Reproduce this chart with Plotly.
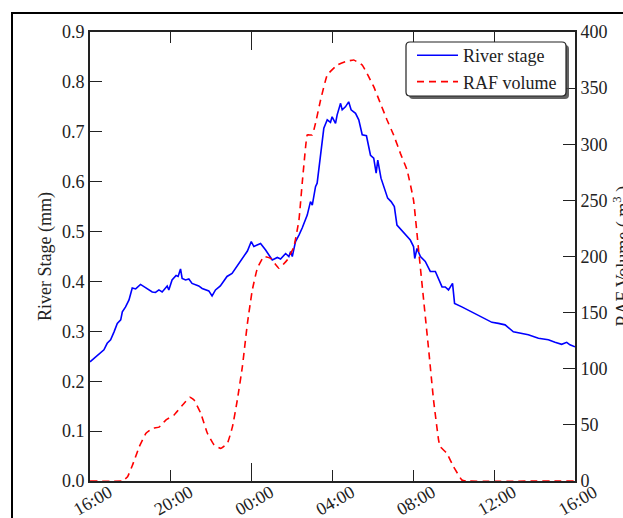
import plotly.graph_objects as go

# ---- data (hours after 16:00) ----
stage_hours = [0, 0.28, 0.53, 0.69, 0.85, 1.02, 1.19, 1.35, 1.52, 1.6,
               1.76, 1.93, 2.09, 2.26, 2.5, 2.75, 2.91, 3.08, 3.24, 3.41,
               3.57, 3.82, 3.9, 4.06, 4.26, 4.36, 4.48, 4.56, 4.73, 4.89,
               5.05, 5.22, 5.38, 5.55, 5.71, 5.88, 6.04, 6.21, 6.45, 6.62,
               6.78, 7.03, 7.27, 7.52, 7.69,
               7.79, 7.98, 8.11, 8.44, 8.69,
               9.02, 9.27, 9.43, 9.68, 9.84, 9.93, 10.01, 10.17, 10.34, 10.5,
               10.75, 10.91, 11.0, 11.16, 11.24, 11.41, 11.57, 11.74, 11.9, 11.98,
               12.15, 12.23, 12.4, 12.48, 12.64, 12.8, 12.92, 13.14, 13.3, 13.47,
               13.68, 13.88, 14.04, 14.16, 14.24, 14.4, 14.57, 14.73, 14.9, 15.06,
               15.19, 15.36,
               15.69, 15.85, 16.01, 16.07, 16.18, 16.35, 16.59, 16.84, 17.09, 17.25,
               17.42, 17.58, 17.74, 17.94, 18.04, 18.4, 18.9, 19.39, 19.89, 20.21,
               20.54, 20.95, 21.37, 21.69, 22.19, 22.68, 23.01, 23.34, 23.59, 23.75,
               24]
river_stage = [0.239, 0.249, 0.259, 0.263, 0.276, 0.283, 0.299, 0.316, 0.323, 0.339,
               0.349, 0.363, 0.387, 0.385, 0.394, 0.388, 0.383, 0.379, 0.378, 0.383,
               0.379, 0.391, 0.383, 0.403, 0.412, 0.410, 0.425, 0.406, 0.403, 0.405,
               0.396, 0.394, 0.391, 0.386, 0.383, 0.381, 0.371, 0.383, 0.391, 0.401,
               0.410, 0.416, 0.430, 0.443, 0.453,
               0.461, 0.480, 0.470, 0.476, 0.463,
               0.443, 0.448, 0.445, 0.456, 0.450, 0.460, 0.450, 0.480, 0.493, 0.507,
               0.533, 0.560, 0.553, 0.590, 0.597, 0.653, 0.707, 0.724, 0.719, 0.730,
               0.717, 0.734, 0.757, 0.744, 0.750, 0.760, 0.744, 0.737, 0.724, 0.694,
               0.692, 0.653, 0.647, 0.617, 0.643, 0.607, 0.587, 0.567, 0.560, 0.550,
               0.513, 0.505,
               0.490, 0.483, 0.470, 0.446, 0.466, 0.450, 0.440, 0.420, 0.420, 0.406,
               0.389, 0.389, 0.383, 0.396, 0.356, 0.349, 0.339, 0.329, 0.318, 0.316,
               0.313, 0.299, 0.296, 0.293, 0.286, 0.283, 0.278, 0.274, 0.278, 0.273,
               0.269]

raf_hours = [0, 1.61, 1.86, 2.1, 2.44, 2.77, 3.1, 3.42, 3.75, 4.16,
             4.58, 4.94, 5.15, 5.48, 5.81, 6.14, 6.47, 6.8, 7.05, 7.29,
             7.54, 7.79, 8.03, 8.28, 8.6, 8.94, 9.35, 9.76, 10.09, 10.34,
             10.5, 10.67, 10.75, 11.0, 11.16, 11.41, 11.74, 12.23, 12.64, 13.05,
             13.47, 13.79, 14.04, 14.37, 14.7, 15.03, 15.36, 15.69, 16.01, 16.26,
             16.51, 16.76, 17.0, 17.25, 17.33, 17.66, 17.99, 18.4, 18.6, 24]
raf_volume = [0, 0, 3.8, 14, 30.6, 42.5, 47, 48, 54.3, 58.8,
              67.7, 74.6, 72.2, 60.3, 42.5, 32.1, 29.1, 33.6, 48.4, 72.2,
              101.8, 140.5, 170, 189.5, 200, 198.4, 189.5, 196.9, 208.7, 232.5,
              265.2, 297.8, 308.3, 308.3, 318.7, 339.4, 361.7, 370.6, 373.6, 375,
              370.6, 360.2, 351.3, 336.5, 321.6, 308, 291.9, 277, 250.3, 205.8,
              161.2, 116.7, 72.2, 36.5, 30.6, 24.6, 12.7, 0.9, 0, 0]

x_tick_vals = [0, 4, 8, 12, 16, 20, 24]
x_tick_text = ["16:00", "20:00", "00:00", "04:00", "08:00", "12:00", "16:00"]
day_tick = [8]
y_tick_vals = [0, 0.1, 0.2, 0.3, 0.4, 0.5, 0.6, 0.7, 0.8, 0.9]
y2_tick_vals = [0, 50, 100, 150, 200, 250, 300, 350, 400]
y_title = "River Stage (mm)"
y2_title = "RAF Volume ( m<sup>3</sup> )"

assert len(stage_hours) == len(river_stage)
assert len(raf_hours) == len(raf_volume)

FONT = "Liberation Serif"
INK = "#222222"
FS = 18

# plot-area geometry in pixels (for paper-coordinate conversions)
W, H = 623, 518
L, R, T, B = 90, 48, 32, 37
PW, PH = W - L - R, H - T - B


def px(x):
    return (x - L) / PW


def py(y):
    return (H - B - y) / PH


def round_rect(x0, y0, x1, y1, r):
    return ("M {a},{b} L {c},{b} Q {x1},{b} {x1},{d} L {x1},{e} Q {x1},{f} {c},{f} "
            "L {a},{f} Q {x0},{f} {x0},{e} L {x0},{d} Q {x0},{b} {a},{b} Z").format(
        a=px(x0 + r), c=px(x1 - r), b=py(y0), d=py(y0 + r), e=py(y1 - r), f=py(y1),
        x0=px(x0), x1=px(x1))


fig = go.Figure()
fig.add_trace(go.Scatter(x=stage_hours, y=river_stage, mode="lines",
                         name="River stage",
                         line=dict(color="#0000ff", width=1.6)))
fig.add_trace(go.Scatter(x=raf_hours, y=raf_volume, mode="lines",
                         name="RAF volume", xaxis="x2", yaxis="y2",
                         line=dict(color="#ff0000", width=1.6, dash="7px,5px",
                                   shape="spline", smoothing=0.3)))

fig.update_layout(
    width=W, height=H,
    margin=dict(l=L, r=R, t=T, b=B, autoexpand=False),
    paper_bgcolor="white", plot_bgcolor="white",
    font=dict(family=FONT, size=FS, color=INK),
    showlegend=True,
    legend=dict(x=px(412), y=py(37), xanchor="left", yanchor="top",
                bgcolor="rgba(0,0,0,0)", borderwidth=0,
                font=dict(family=FONT, size=FS, color=INK),
                itemwidth=41, tracegroupgap=0),
    xaxis=dict(range=[0, 24], tickvals=x_tick_vals, ticktext=x_tick_text,
               tickangle=-30, ticks="inside", ticklen=11, tickwidth=1,
               tickcolor=INK, showline=True, linecolor=INK, linewidth=2,
               mirror="ticks", showgrid=False, zeroline=False, automargin=False,
               ticklabelshift=19, ticklabelstandoff=-8,
               tickfont=dict(family=FONT, size=FS, color=INK)),
    xaxis2=dict(range=[0, 24], overlaying="x", anchor="y", tickvals=day_tick,
                ticks="inside", ticklen=18, tickwidth=1, tickcolor=INK,
                showticklabels=False, mirror="ticks", showline=False,
                showgrid=False, zeroline=False, automargin=False),
    yaxis=dict(range=[0, 0.9], tickvals=y_tick_vals, tickformat=".1f",
               ticks="inside", ticklen=12, tickwidth=1, tickcolor=INK,
               showline=True, linecolor=INK, linewidth=2, mirror=True,
               showgrid=False, zeroline=False, automargin=False,
               title=dict(text=y_title, standoff=6,
                          font=dict(family=FONT, size=FS, color=INK))),
    yaxis2=dict(range=[0, 400], tickvals=y2_tick_vals, overlaying="y",
                side="right", anchor="x", ticks="inside", ticklen=12,
                tickwidth=1, tickcolor=INK, showline=True, linecolor=INK,
                linewidth=2, showgrid=False, zeroline=False, automargin=False),
    annotations=[
        # right-axis title, partly outside the picture as in the original
        dict(text=y2_title, textangle=-90, xref="paper", yref="paper",
             x=px(622), y=0.5, xanchor="center", yanchor="middle",
             showarrow=False, font=dict(family=FONT, size=FS, color=INK)),
    ],
    shapes=[
        # legend shadow
        dict(type="path", xref="paper", yref="paper",
             path=round_rect(409, 45, 569, 99, 4),
             fillcolor="rgba(70,70,70,0.85)", line=dict(width=0), layer="above"),
        # legend frame
        dict(type="path", xref="paper", yref="paper",
             path=round_rect(406, 42, 566, 96, 4),
             fillcolor="white", line=dict(color=INK, width=1.2), layer="above"),
        # outer frame
        dict(type="rect", xref="paper", yref="paper",
             x0=px(12), x1=px(700), y0=py(600), y1=py(13),
             line=dict(color="black", width=2), fillcolor="rgba(0,0,0,0)",
             layer="above"),
    ],
)

fig.write_html("out.html")
